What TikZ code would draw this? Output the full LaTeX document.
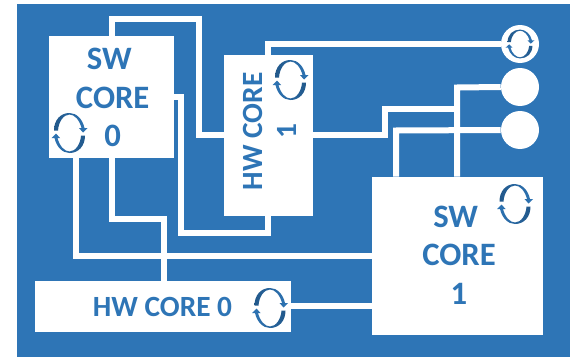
\documentclass[tikz,border=0pt]{standalone}
\usepackage{fontspec}
\setmainfont{Carlito}
\definecolor{bluebg}{RGB}{46,117,182}
\definecolor{bluedk}{RGB}{34,88,138}
\tikzset{
  x=0.75pt,y=-0.75pt,
  corebox/.style={fill=white,draw=none,inner sep=0pt},
  dot/.style={circle,fill=white,minimum size=28.5pt,inner sep=0pt},
  wire/.style={draw=white,line width=4.5pt,line join=miter},
  lbl/.style={text=bluebg,font=\fontsize{24.5}{29}\selectfont\bfseries,align=center,inner sep=0pt},
  lblh/.style={text=bluebg,font=\fontsize{22}{25.5}\selectfont\bfseries,align=center,inner sep=0pt},
  cyc/.pic={
    \shade[left color=bluedk,right color=bluebg,shading angle=90] (-15.5,-2.5) .. controls (-15.5,-13) and (-9,-20) .. (0,-20) .. controls (7,-20) and (13,-14) .. (15,-5) -- (18,-5) -- (13.5,-0.5) -- (9.5,-5) -- (12,-5) .. controls (10,-13) and (5,-18.5) .. (0,-18.5) .. controls (-6,-18.5) and (-11,-11) .. (-11.5,-2.5) -- cycle;
    \shade[left color=bluebg,right color=bluedk,shading angle=90] (15.5,2.5) .. controls (15.5,13) and (9,20) .. (0,20) .. controls (-7,20) and (-13,14) .. (-15,5) -- (-18,5) -- (-13.5,0.5) -- (-9.5,5) -- (-12,5) .. controls (-10,13) and (-5,18.5) .. (0,18.5) .. controls (6,18.5) and (11,11) .. (11.5,2.5) -- cycle;
  }
}
\begin{document}
\begin{tikzpicture}
\useasboundingbox (0,0) rectangle (572,357);
\fill[white] (0,0) rectangle (572,357);
\fill[bluebg] (17,4) rectangle (570,357);
% boxes
\node[corebox,minimum width=93.75pt,minimum height=91.5pt] (sw0) at (111.5,97) {};
\node[corebox,minimum width=66.75pt,minimum height=120.75pt] (hw1) at (268.5,135.5) {};
\node[corebox,minimum width=128.25pt,minimum height=118.5pt] (sw1) at (457.5,256) {};
\node[corebox,minimum width=192pt,minimum height=38.25pt] (hw0) at (163,306.5) {};
\node[dot] (c0) at (520,44) {};
\node[dot] (c1) at (520,87) {};
\node[dot] (c2) at (520,130) {};
% wires
\draw[wire] (sw0.north -| 112,0) -- (112,19) -- (199,19) -- (199,135) -- (hw1.west |- 0,135);
\draw[wire] (hw1.north -| 268,0) -- (268,44) -- (c0.west);
\draw[wire] (sw0.east |- 0,97) -- (181,97) -- (181,233) -- (268,233) -- (hw1.south -| 268,0);
\draw[wire] (sw0.south -| 76,0) -- (76,256) -- (sw1.west |- 0,256);
\draw[wire] (sw0.south -| 112,0) -- (112,219) -- (163.5,219) -- (hw0.north -| 163.5,0);
\draw[wire] (hw0.east |- 0,306) -- (sw1.west |- 0,306);
\draw[wire] (hw1.east |- 0,135) -- (385,135) -- (385,109) -- (457,109);
\draw[wire] (sw1.north -| 457,0) -- (457,87.5) -- (c1.west);
\draw[wire] (sw1.north -| 396,0) -- (396,130.5) -- (c2.west);
% labels
\node[lbl] (l0) at (112.7,97.5) {SW\kern 5pt\\CORE\\0};
\node[lbl] (l1) at (459,255) {SW\kern 5pt\\CORE\\1};
\node[lblh] (l2) at (162.5,307) {HW CORE 0};
\node[lblh,rotate=90] (l3) at (270,131.5) {HW CORE\\1};
% icons
\pic at (69.5,133) {cyc};
\pic at (290.5,80) {cyc};
\pic at (515,204) {cyc};
\pic at (270,308) {cyc};
\pic[xscale=.8,yscale=.72] at (520,44) {cyc};
\end{tikzpicture}
\end{document}
